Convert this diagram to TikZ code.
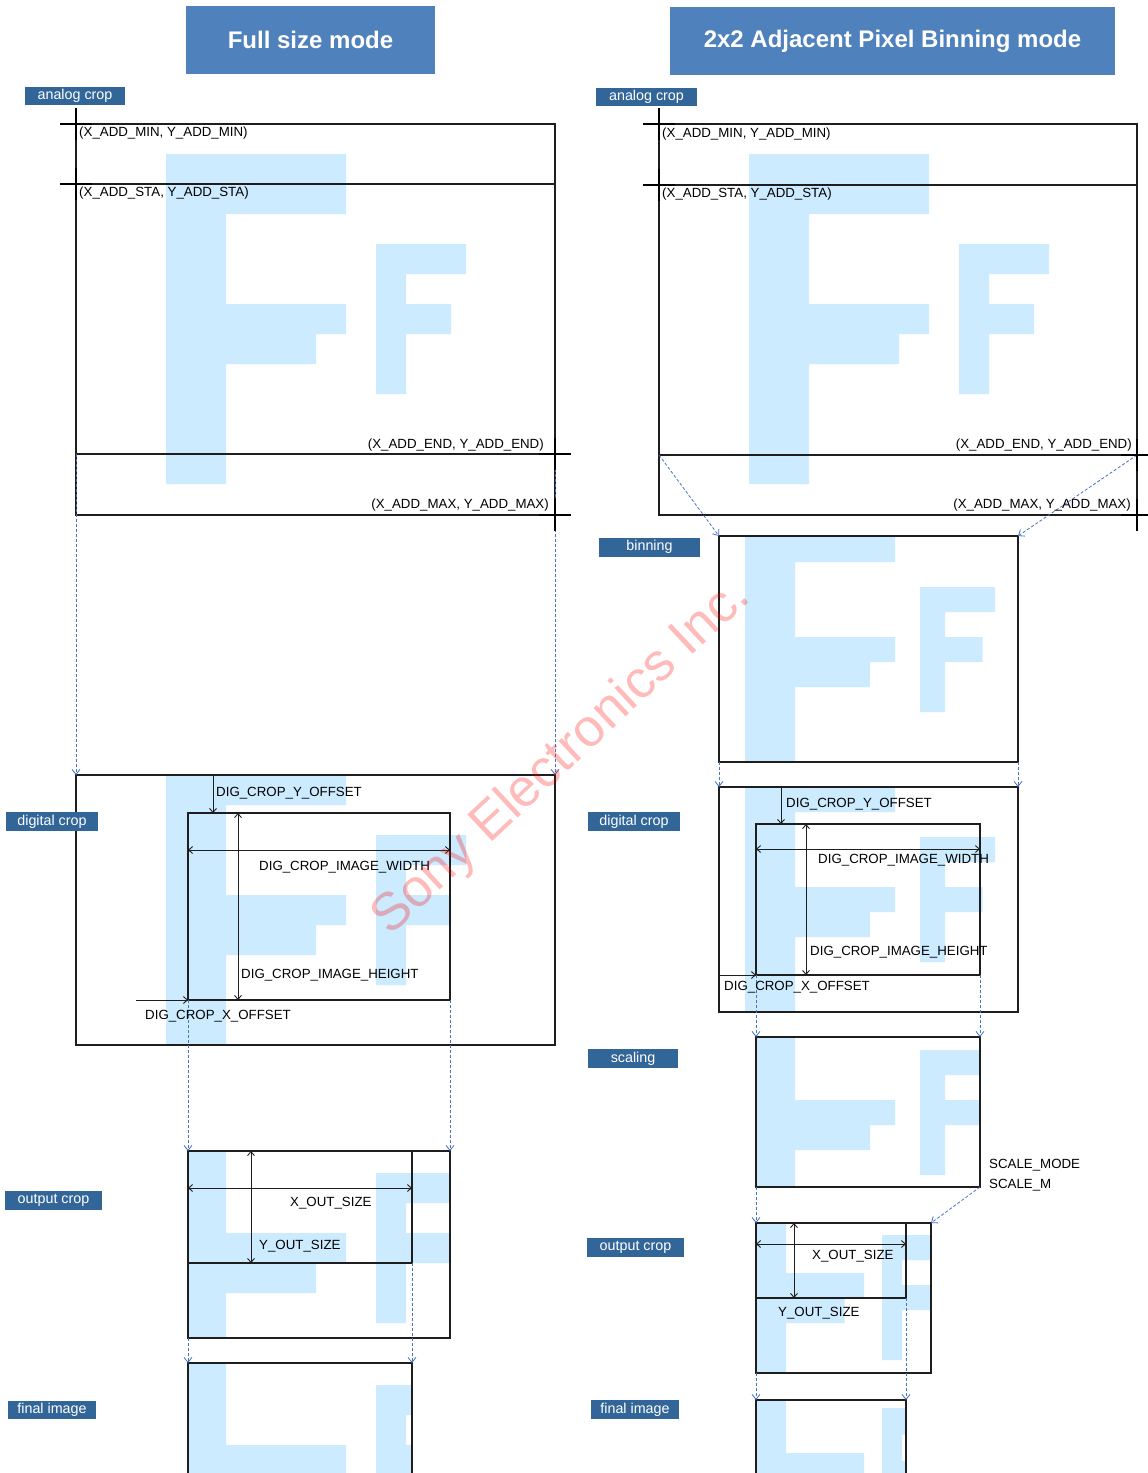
\documentclass[tikz,border=0pt]{standalone}
\usepackage{fontspec}
\setmainfont{Liberation Sans}
\usetikzlibrary{arrows.meta}
\definecolor{fblue}{RGB}{204,235,255}
\definecolor{titleblue}{RGB}{79,129,189}
\definecolor{lblblue}{RGB}{50,101,152}
\definecolor{dashblue}{RGB}{68,114,196}
\definecolor{lineblk}{RGB}{30,30,30}
\newcommand\bigF[4]{\begin{scope}[shift={(#1,#2)},xscale=#3,yscale=#4]\fill[fblue] (0,0) rectangle (2,11) (0,0) rectangle (6,2) (2,5) rectangle (6,6) (2,6) rectangle (5,7);\end{scope}}
\newcommand\smallF[4]{\begin{scope}[shift={(#1,#2)},xscale=#3,yscale=#4]\fill[fblue] (0,0) rectangle (1,5) (0,0) rectangle (3,1) (1,2) rectangle (2.5,3);\end{scope}}
\tikzset{
  txt/.style={font=\fontsize{13.3}{16}\selectfont, inner sep=0pt, text=black},
  lbl/.style={fill=lblblue, text=white, font=\fontsize{14.3}{16}\selectfont, inner sep=0pt},
  ttl/.style={fill=titleblue, text=white, font=\bfseries\fontsize{24}{28}\selectfont, inner sep=0pt},
  box/.style={draw=lineblk, line width=1.1pt},
  conn/.style={draw=dashblue, dash pattern=on 3pt off 2pt, line width=0.8pt, -{Straight Barb[length=5pt,width=8pt]}},
  dim/.style={draw=lineblk, line width=0.9pt, -{Straight Barb[length=4pt,width=7pt]}},
  ddim/.style={draw=lineblk, line width=0.9pt, {Straight Barb[length=4pt,width=7pt]}-{Straight Barb[length=4pt,width=7pt]}},
  crosshair/.pic={\draw[line width=2.8pt, black] (-16,0)--(16,0) (0,-16)--(0,16);}
}
\begin{document}
\begin{tikzpicture}[x=1pt,y=-1pt]
\useasboundingbox (0,0) rectangle (1148,1473);
% ---------------- F images ----------------
\bigF{166}{154}{30}{30}\smallF{376}{244}{30}{30}
\bigF{749}{154}{30}{30}\smallF{959}{244}{30}{30}
\begin{scope}\clip (76,775) rectangle (555,1045);\bigF{166}{745}{30}{30}\smallF{376}{835}{30}{30}\end{scope}
\begin{scope}\clip (188,1151) rectangle (450,1338);\bigF{166}{1083}{30}{30}\smallF{376}{1173}{30}{30}\end{scope}
\begin{scope}\clip (188,1363) rectangle (412,1473);\bigF{166}{1295}{30}{30}\smallF{376}{1385}{30}{30}\end{scope}
\begin{scope}\clip (719,536) rectangle (1018,762);\bigF{745}{512}{25}{25}\smallF{920}{587}{25}{25}\end{scope}
\begin{scope}\clip (719,787) rectangle (1018,1012);\bigF{745}{762}{25}{25}\smallF{920}{837}{25}{25}\end{scope}
\begin{scope}\clip (756,1037) rectangle (980,1187);\bigF{745}{975}{25}{25}\smallF{920}{1050}{25}{25}\end{scope}
\begin{scope}\clip (756,1223) rectangle (931,1373);\bigF{747}{1148}{19.5}{25}\smallF{882}{1235}{20}{25}\end{scope}
\begin{scope}\clip (756,1400) rectangle (906,1473);\bigF{747}{1328}{19.5}{25}\smallF{882}{1408}{20}{26.5}\end{scope}

% ---------------- coordinates ----------------
\coordinate (LAtl) at (76,124);  \coordinate (LAbr) at (555,515);
\coordinate (LSl) at (76,184);   \coordinate (LSr) at (555,184);
\coordinate (LEl) at (76,454);   \coordinate (LEr) at (555,454);
\coordinate (LMr) at (555,515);
\coordinate (LDtl) at (76,775);  \coordinate (LDtr) at (555,775); \coordinate (LDbr) at (555,1045);
\coordinate (LCtl) at (188,813); \coordinate (LCbl) at (188,1000); \coordinate (LCbr) at (450,1000);
\coordinate (LOtl) at (188,1151); \coordinate (LOtr) at (450,1151); \coordinate (LObl) at (188,1338); \coordinate (LObr) at (450,1338);
\coordinate (LIbr) at (412,1263);
\coordinate (LFtl) at (188,1363); \coordinate (LFtr) at (412,1363);
\coordinate (LFbl) at (188,1473); \coordinate (LFbr) at (412,1473);
\coordinate (RAtl) at (659,124);  \coordinate (RAbr) at (1137,515);
\coordinate (RSl) at (659,185);   \coordinate (RSr) at (1137,185);
\coordinate (REl) at (659,455);   \coordinate (REr) at (1137,455);
\coordinate (RMr) at (1137,515);
\coordinate (RBtl) at (719,536); \coordinate (RBtr) at (1018,536); \coordinate (RBbl) at (719,762); \coordinate (RBbr) at (1018,762);
\coordinate (RDtl) at (719,787); \coordinate (RDtr) at (1018,787); \coordinate (RDbr) at (1018,1012);
\coordinate (RCtl) at (756,824); \coordinate (RCbl) at (756,975); \coordinate (RCbr) at (980,975); \coordinate (RDl) at (719,975);
\coordinate (RStl) at (756,1037); \coordinate (RStr) at (980,1037); \coordinate (RSbl) at (756,1187); \coordinate (RSbr) at (980,1187);
\coordinate (ROtl) at (756,1223); \coordinate (ROtr) at (931,1223); \coordinate (RObl) at (756,1373); \coordinate (RObr) at (931,1373);
\coordinate (RIbr) at (906,1298);
\coordinate (RFtl) at (756,1400); \coordinate (RFtr) at (906,1400);
\coordinate (RFbl) at (756,1473); \coordinate (RFbr) at (906,1473);

% ---------------- boxes ----------------
\draw[box] (LAtl) rectangle (LAbr);
\draw[box] (LSl) -- (LSr);
\draw[box] (LEl) -- (LEr);
\draw[box] (LDtl) rectangle (LDbr);
\draw[box] (LCtl) rectangle (LCbr);
\draw[box] (LOtl) rectangle (LObr);
\draw[box] (LOtl) rectangle (LIbr);
\draw[box] (LFbl) -- (LFtl) -- (LFtr) -- (LFbr);

\draw[box] (RAtl) rectangle (RAbr);
\draw[box] (RSl) -- (RSr);
\draw[box] (REl) -- (REr);
\draw[box] (RBtl) rectangle (RBbr);
\draw[box] (RDtl) rectangle (RDbr);
\draw[box] (RCtl) rectangle (RCbr);
\draw[box] (RStl) rectangle (RSbr);
\draw[box] (ROtl) rectangle (RObr);
\draw[box] (ROtl) rectangle (RIbr);
\draw[box] (RFbl) -- (RFtl) -- (RFtr) -- (RFbr);

% ---------------- dashed connectors ----------------
\draw[conn] (LEl) -- (LDtl);
\draw[conn] (LEr) -- (LDtr);
\draw[conn] (LCbl) -- (LOtl);
\draw[conn] (LCbr) -- (LOtr);
\draw[conn] (LObl) -- (LFtl);
\draw[conn] (LIbr) -- (LFtr);

\draw[conn] (REl) -- (RBtl);
\draw[conn] (REr) -- (RBtr);
\draw[conn] (RBbl) -- (RDtl);
\draw[conn] (RBbr) -- (RDtr);
\draw[conn] (RCbl) -- (RStl);
\draw[conn] (RCbr) -- (RStr);
\draw[conn] (RSbl) -- (ROtl);
\draw[conn] (RSbr) -- (ROtr);
\draw[conn] (RObl) -- (RFtl);
\draw[conn] (RIbr) -- (RFtr);

% ---------------- dimension arrows ----------------
\coordinate (lyo1) at (213,775); \coordinate (lyo2) at (213,813);
\coordinate (lw1) at (188,850);  \coordinate (lw2) at (450,850);
\coordinate (lh1) at (238,813);  \coordinate (lh2) at (238,1000);
\coordinate (lxo1) at (136,1000);
\coordinate (lxs1) at (188,1188); \coordinate (lxs2) at (412,1188);
\coordinate (lys1) at (251,1151); \coordinate (lys2) at (251,1263);
\draw[dim] (lyo1) -- (lyo2);
\draw[ddim] (lw1) -- (lw2);
\draw[ddim] (lh1) -- (lh2);
\draw[dim] (lxo1) -- (LCbl);
\draw[ddim] (lxs1) -- (lxs2);
\draw[ddim] (lys1) -- (lys2);

\coordinate (ryo1) at (781,787); \coordinate (ryo2) at (781,824);
\coordinate (rw1) at (756,849);  \coordinate (rw2) at (980,849);
\coordinate (rh1) at (806,824);  \coordinate (rh2) at (806,975);
\coordinate (rxs1) at (756,1244); \coordinate (rxs2) at (906,1244);
\coordinate (rys1) at (794,1223); \coordinate (rys2) at (794,1298);
\draw[dim] (ryo1) -- (ryo2);
\draw[ddim] (rw1) -- (rw2);
\draw[ddim] (rh1) -- (rh2);
\draw[dim] (RDl) -- (RCbl);
\draw[ddim] (rxs1) -- (rxs2);
\draw[ddim] (rys1) -- (rys2);

% ---------------- crosshairs ----------------
\pic at (LAtl) {crosshair};
\pic at (LSl) {crosshair};
\pic at (LEr) {crosshair};
\pic at (LMr) {crosshair};
\pic at (RAtl) {crosshair};
\pic at (RSl) {crosshair};
\pic at (REr) {crosshair};
\pic at (RMr) {crosshair};

% ---------------- texts ----------------
\node[txt, anchor=west] (tLmin) at (79,133) {(X\_ADD\_MIN, Y\_ADD\_MIN)};
\node[txt, anchor=west] (tLsta) at (79,193) {(X\_ADD\_STA, Y\_ADD\_STA)};
\node[txt, anchor=east] (tLend) at (544,445) {(X\_ADD\_END, Y\_ADD\_END)};
\node[txt, anchor=east] (tLmax) at (549,505) {(X\_ADD\_MAX, Y\_ADD\_MAX)};
\node[txt, anchor=west] (tRmin) at (662,134) {(X\_ADD\_MIN, Y\_ADD\_MIN)};
\node[txt, anchor=west] (tRsta) at (662,194) {(X\_ADD\_STA, Y\_ADD\_STA)};
\node[txt, anchor=east] (tRend) at (1132,445) {(X\_ADD\_END, Y\_ADD\_END)};
\node[txt, anchor=east] (tRmax) at (1131,505) {(X\_ADD\_MAX, Y\_ADD\_MAX)};

\node[txt, anchor=west] (tLyo) at (216,793) {DIG\_CROP\_Y\_OFFSET};
\node[txt, anchor=west] (tLw) at (259,867) {DIG\_CROP\_IMAGE\_WIDTH};
\node[txt, anchor=west] (tLh) at (241,975) {DIG\_CROP\_IMAGE\_HEIGHT};
\node[txt, anchor=west] (tLxo) at (145,1016) {DIG\_CROP\_X\_OFFSET};
\node[txt, anchor=west] (tLxs) at (290,1203) {X\_OUT\_SIZE};
\node[txt, anchor=west] (tLys) at (259,1246) {Y\_OUT\_SIZE};

\node[txt, anchor=west] (tRyo) at (786,804) {DIG\_CROP\_Y\_OFFSET};
\node[txt, anchor=west] (tRw) at (818,860) {DIG\_CROP\_IMAGE\_WIDTH};
\node[txt, anchor=west] (tRh) at (810,952) {DIG\_CROP\_IMAGE\_HEIGHT};
\node[txt, anchor=west] (tRxo) at (724,987) {DIG\_CROP\_X\_OFFSET};
\node[txt, anchor=west] (tRsm) at (989,1165) {SCALE\_MODE};
\node[txt, anchor=west] (tRsm2) at (989,1185) {SCALE\_M};
\node[txt, anchor=west] (tRxs) at (812,1256) {X\_OUT\_SIZE};
\node[txt, anchor=west] (tRys) at (778,1313) {Y\_OUT\_SIZE};

% ---------------- step labels ----------------
\node[lbl, minimum width=100pt, minimum height=18pt] (lLa) at (75,96) {analog crop};
\node[lbl, minimum width=92pt, minimum height=19pt] (lLd) at (52,821.5) {digital crop};
\node[lbl, minimum width=97pt, minimum height=19pt] (lLo) at (53.5,1200.5) {output crop};
\node[lbl, minimum width=88pt, minimum height=18pt] (lLf) at (52,1410) {final image};
\node[lbl, minimum width=101pt, minimum height=18pt] (lRa) at (646.5,97) {analog crop};
\node[lbl, minimum width=101pt, minimum height=19pt] (lRb) at (649.5,547) {binning};
\node[lbl, minimum width=92pt, minimum height=19pt] (lRd) at (634,821.5) {digital crop};
\node[lbl, minimum width=90pt, minimum height=19pt] (lRs) at (633,1058.5) {scaling};
\node[lbl, minimum width=97pt, minimum height=19pt] (lRo) at (635.5,1247.5) {output crop};
\node[lbl, minimum width=88pt, minimum height=19pt] (lRf) at (635,1409.5) {final image};

% ---------------- titles ----------------
\node[ttl, minimum width=249pt, minimum height=68pt] (title1) at (310.5,40) {Full size mode};
\node[ttl, minimum width=445pt, minimum height=68pt] (title2) at (892.5,41) {2x2 Adjacent Pixel Binning mode};

% ---------------- watermark ----------------
\node[rotate=43, text=red, text opacity=0.27, inner sep=0pt, font=\fontsize{53}{60}\selectfont] (wm) at (562,758) {Sony Electronics Inc.};
\end{tikzpicture}
\end{document}
